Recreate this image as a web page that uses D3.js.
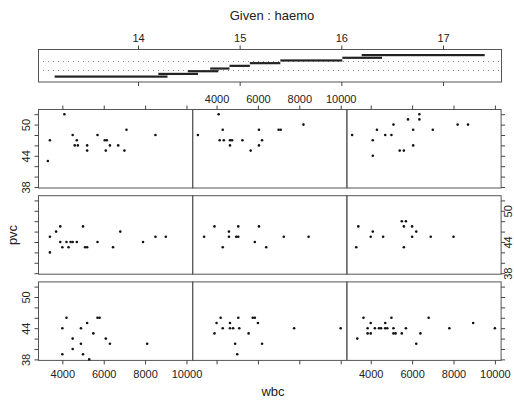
<!DOCTYPE html>
<html>
<head>
<meta charset="utf-8">
<script src="https://cdn.jsdelivr.net/npm/d3@7"></script>
<style>
body { margin: 0; background: #fff; }
text { font-family: "Liberation Sans", Arial, sans-serif; fill: #222; }
</style>
</head>
<body>
<div id="chart"></div>
<script>
// given variable (haemo) intervals, lowest first
var haemoTicks = [14, 15, 16, 17];
var haemoLo = [13.18, 14.20, 14.49, 14.71, 14.90, 15.10, 15.40, 16.01, 16.20];
var haemoHi = [14.29, 14.59, 14.79, 14.90, 15.10, 15.40, 16.01, 16.40, 17.41];

var wbcTicks = [4000, 6000, 8000, 10000];
var pvcTicks = [38, 40, 42, 44, 46, 48, 50, 52];
var pvcLabelled = [38, 44, 50];

// one entry per panel, R coplot order: bottom-left first, left to right, then up
var panelWbc = [
    [4000, 4000, 4200, 4500, 4500, 4900, 4900, 5000, 5200, 5300, 5500, 5700, 5800, 6100, 6300, 8100],
    [3900, 4000, 4200, 4300, 4650, 4650, 4800, 4900, 5000, 5050, 5100, 5550, 5750, 5850, 6000, 6200, 7750, 10000],
    [3350, 3650, 3850, 3850, 4000, 4000, 4200, 4400, 4500, 4700, 4800, 4700, 5000, 5100, 5100, 5200, 5500, 5700, 6200, 6400, 6800, 7800, 8950, 10000],
    [3400, 3400, 3700, 3900, 3900, 4000, 4200, 4300, 4400, 4500, 4700, 5000, 5100, 5200, 5700, 6450, 6800, 7900, 8500, 9000],
    [3400, 3900, 4300, 4600, 4600, 4950, 5050, 5050, 5850, 6050, 6400, 7250, 8450],
    [3300, 3400, 4000, 4100, 4600, 5500, 5700, 5600, 5600, 6000, 6000, 6200, 6900, 8000],
    [3300, 3400, 4100, 4500, 4700, 4600, 4750, 5200, 5200, 5700, 6050, 6150, 6100, 6300, 6700, 7000, 7100, 8500],
    [3100, 4100, 4300, 4150, 4350, 4650, 4750, 4650, 5250, 5650, 6050, 6200, 6050, 7000, 7100, 8200],
    [3100, 4100, 4300, 4100, 4700, 5000, 5100, 5400, 5600, 5800, 6050, 6050, 6350, 6350, 7000, 8200, 8700]
];
var panelPvc = [
    [39, 44, 46, 42, 40, 44, 41, 39, 45, 38, 43, 46, 46, 42, 41, 41],
    [43, 45, 46, 44, 45, 44, 44, 41, 39, 46, 44, 43, 46, 46, 45, 41, 44, 44],
    [42, 46, 44, 43, 43, 45, 44, 44, 44, 44, 44, 45, 46, 44, 43, 43, 43, 44, 41, 43, 46, 44, 45, 44],
    [45, 42, 46, 47, 44, 43, 44, 43, 44, 44, 44, 47, 43, 43, 44, 43, 46, 44, 45, 45],
    [45, 47, 43, 46, 45, 45, 45, 47, 44, 47, 43, 45, 45],
    [43, 47, 45, 46, 45, 48, 48, 47, 43, 47, 45, 46, 45, 45],
    [43, 47, 52, 48, 47, 46, 46, 46, 45, 48, 47, 47, 45, 46, 46, 45, 49, 48],
    [48, 52, 49, 47, 47, 47, 47, 46, 47, 45, 49, 47, 46, 49, 49, 50],
    [48, 47, 49, 44, 48, 48, 50, 45, 45, 51, 49, 46, 52, 51, 49, 50, 50]
];

var W = 514, H = 401,
    panelLeft = 38, colW = 154.2,
    panelTop = 109, rowH = 78.5, rowGap = 7.7,
    tick = 4;

var svg = d3.select('#chart').append('svg')
    .attr('width', W)
    .attr('height', H);

svg.append('rect').attr('width', W).attr('height', H).attr('fill', '#fff');

var styleAxis = function(a) {
    a.select('.domain').remove();
    a.selectAll('line').attr('stroke', '#444');
    a.selectAll('text').style('font-size', '11px').attr('fill', '#222');
};

// title
svg.append('text')
    .attr('x', 272).attr('y', 20)
    .attr('text-anchor', 'middle')
    .style('font-size', '13px')
    .text('Given :  haemo');

// ---- given panel
var gx = d3.scaleLinear().domain([14, 17]).range([138, 443]),
    gy = d3.scaleLinear().domain([1, 9]).range([76.5, 55]),
    given = svg.append('g');

given.append('rect')
    .attr('x', 38.5).attr('y', 49.5)
    .attr('width', 463).attr('height', 32.5)
    .attr('fill', 'none').attr('stroke', '#555');

[61.5, 70.5].forEach(function(y) {
    given.append('line')
        .attr('x1', 43).attr('x2', 499)
        .attr('y1', y).attr('y2', y)
        .attr('stroke', '#888')
        .attr('stroke-dasharray', '1,4');
});

given.selectAll('.bar')
    .data(haemoLo)
    .enter()
    .append('rect')
    .attr('class', 'bar')
    .attr('x', function(d) { return gx(d); })
    .attr('y', function(d, i) { return gy(i + 1) - 1; })
    .attr('width', function(d, i) { return gx(haemoHi[i]) - gx(d); })
    .attr('height', 2.2)
    .attr('fill', '#222');

styleAxis(given.append('g')
    .attr('transform', 'translate(0,49.5)')
    .call(d3.axisTop(gx).tickValues(haemoTicks).tickSize(tick).tickSizeOuter(0).tickPadding(4)
        .tickFormat(d3.format('d'))));
styleAxis(given.append('g')
    .attr('transform', 'translate(0,82)')
    .call(d3.axisBottom(gx).tickValues(haemoTicks).tickSize(tick).tickSizeOuter(0).tickFormat('')));

// ---- conditioning panels
var panels = svg.append('g');

panelWbc.forEach(function(wbc, k) {
    var col = k % 3,
        row = 2 - Math.floor(k / 3),
        x0 = panelLeft + col * colW,
        y0 = panelTop + row * (rowH + rowGap),
        x = d3.scaleLinear().domain([2824, 10276]).range([x0, x0 + colW]),
        y = d3.scaleLinear().domain([37.9, 53.0]).range([y0 + rowH, y0]),
        p = panels.append('g'),
        pvc = panelPvc[k];

    p.append('rect')
        .attr('x', x0 + 0.5).attr('y', y0 + 0.5)
        .attr('width', colW).attr('height', rowH)
        .attr('fill', 'none').attr('stroke', '#555');

    p.selectAll('circle')
        .data(wbc)
        .enter()
        .append('circle')
        .attr('cx', function(d) { return x(d); })
        .attr('cy', function(d, i) { return y(pvc[i]); })
        .attr('r', 1.3)
        .attr('fill', '#111');

    var yFmt = function(d) { return pvcLabelled.indexOf(d) >= 0 ? d : ''; };

    if (col === 0) {
        var la = p.append('g')
            .attr('transform', 'translate(' + (x0 + 0.5) + ',0)')
            .call(d3.axisLeft(y).tickValues(pvcTicks).tickSize(tick).tickSizeOuter(0)
                .tickFormat(row !== 1 ? yFmt : ''));
        styleAxis(la);
        // y labels run along the axis, as in R
        la.selectAll('text')
            .attr('transform', 'rotate(-90)')
            .attr('x', 0).attr('y', -9).attr('dy', 0)
            .attr('text-anchor', 'middle');
    }
    if (col === 2) {
        var ra = p.append('g')
            .attr('transform', 'translate(' + (x0 + colW + 0.5) + ',0)')
            .call(d3.axisRight(y).tickValues(pvcTicks).tickSize(tick).tickSizeOuter(0)
                .tickFormat(row === 1 ? yFmt : ''));
        styleAxis(ra);
        ra.selectAll('text')
            .attr('transform', 'rotate(-90)')
            .attr('x', 0).attr('y', 11).attr('dy', 0)
            .attr('text-anchor', 'middle');
    }
    if (row === 0) {
        styleAxis(p.append('g')
            .attr('transform', 'translate(0,' + (y0 + 0.5) + ')')
            .call(d3.axisTop(x).tickValues(wbcTicks).tickSize(tick).tickSizeOuter(0).tickPadding(3)
                .tickFormat(col === 1 ? d3.format('d') : '')));
    }
    if (row === 2) {
        styleAxis(p.append('g')
            .attr('transform', 'translate(0,' + (y0 + rowH + 0.5) + ')')
            .call(d3.axisBottom(x).tickValues(wbcTicks).tickSize(tick).tickSizeOuter(0).tickPadding(6)
                .tickFormat(col !== 1 ? d3.format('d') : '')));
    }
});

svg.append('text')
    .attr('transform', 'translate(17,235) rotate(-90)')
    .attr('text-anchor', 'middle')
    .style('font-size', '13px')
    .text('pvc');

svg.append('text')
    .attr('x', 273).attr('y', 396)
    .attr('text-anchor', 'middle')
    .style('font-size', '13px')
    .text('wbc');
</script>
</body>
</html>
